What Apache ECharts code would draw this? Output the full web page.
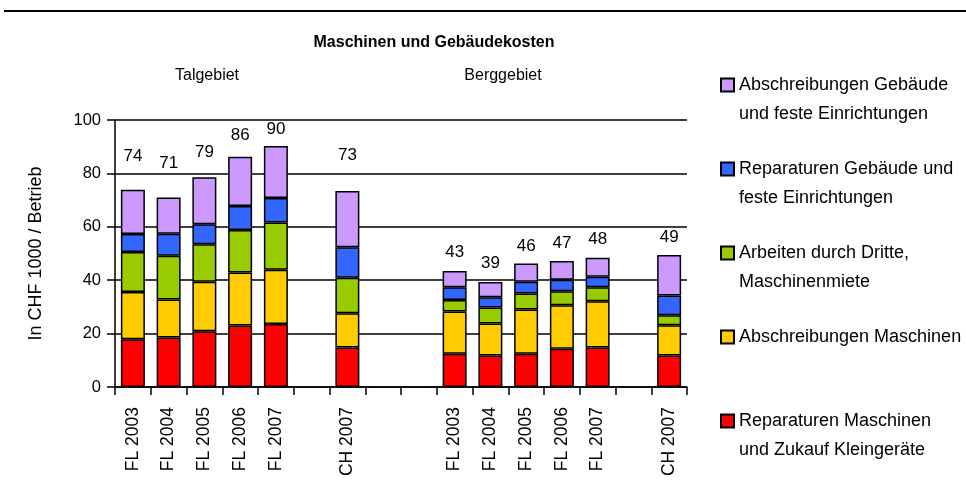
<!DOCTYPE html>
<html><head><meta charset="utf-8">
<script src="https://cdn.jsdelivr.net/npm/echarts@6/dist/echarts.min.js"></script>
<style>html,body{margin:0;padding:0;background:#fff}#c{width:966px;height:487px}</style>
</head><body><div id="c"></div>
<script>
// ---- data ----
const categories = ['FL 2003','FL 2004','FL 2005','FL 2006','FL 2007','','CH 2007','','',
                    'FL 2003','FL 2004','FL 2005','FL 2006','FL 2007','','CH 2007'];
const reparaturenMaschinen = [17.9,18.5,20.9,23.0,23.6,null,14.8,null,null,12.5,11.8,12.5,14.3,14.8,null,11.8];
const abschreibungenMaschinen = [17.7,14.3,18.5,19.9,20.3,null,12.8,null,null,15.8,12.0,16.5,16.3,17.3,null,11.3];
const arbeitenDritte = [15.0,16.4,14.1,15.9,17.7,null,13.3,null,null,4.3,6.0,6.0,5.3,5.3,null,3.8];
const reparaturenGebaeude = [6.7,8.2,7.5,9.0,9.2,null,11.4,null,null,4.8,3.8,4.4,4.3,3.9,null,7.4];
const abschreibungenGebaeude = [16.6,13.6,17.6,18.4,19.5,null,21.1,null,null,6.0,5.7,6.9,7.0,7.1,null,15.1];
const totals = [74,71,79,86,90,null,73,null,null,43,39,46,47,48,null,49];
const yTicks = [0,20,40,60,80,100];

// ---- style ----
const FONT = 'Liberation Sans, Arial, sans-serif';
const labelLift = [25,26,16,13,8,0,27,0,0,10,10,9,9,10,0,9];
const names = {
  red: 'Reparaturen Maschinen\nund Zukauf Kleingeräte',
  yellow: 'Abschreibungen Maschinen',
  green: 'Arbeiten durch Dritte,\nMaschinenmiete',
  blue: 'Reparaturen Gebäude und\nfeste Einrichtungen',
  purple: 'Abschreibungen Gebäude\nund feste Einrichtungen'
};
function bar(name, data, color, extra) {
  return Object.assign({
    name: name, type: 'bar', stack: 'total', data: data, barWidth: 24,
    itemStyle: { color: color, borderColor: '#000', borderWidth: 1.5 }
  }, extra || {});
}
const purpleData = abschreibungenGebaeude.map((v, i) => v == null ? null : { value: v, label: { distance: labelLift[i] } });

const chart = echarts.init(document.getElementById('c'), null, { renderer: 'canvas' });
chart.setOption({
  animation: false,
  backgroundColor: '#fff',
  textStyle: { fontFamily: FONT, color: '#000' },
  grid: { left: 115, right: 279, top: 120, bottom: 100, containLabel: false },
  graphic: [
    { type: 'line', shape: { x1: 4, y1: 11, x2: 966, y2: 11 }, style: { stroke: '#000', lineWidth: 2 } },
    { type: 'text', x: 434, y: 43, style: { text: 'Maschinen und Gebäudekosten', font: 'bold 16px ' + FONT, fill: '#000', align: 'center', verticalAlign: 'middle' } },
    { type: 'text', x: 207, y: 76, style: { text: 'Talgebiet', font: '16px ' + FONT, fill: '#000', align: 'center', verticalAlign: 'middle' } },
    { type: 'text', x: 503, y: 76, style: { text: 'Berggebiet', font: '16px ' + FONT, fill: '#000', align: 'center', verticalAlign: 'middle' } }
  ],
  legend: {
    orient: 'vertical', left: 720, top: 41.5, padding: 0, itemGap: -3,
    itemWidth: 13, itemHeight: 13, selectedMode: false, icon: 'rect',
    textStyle: { fontFamily: FONT, fontSize: 18, lineHeight: 29, color: '#000' },
    formatter: name => '\n' + name + (name.indexOf('\n') < 0 ? '\n ' : ''),
    data: [names.purple, names.blue, names.green, names.yellow, names.red]
  },
  xAxis: {
    type: 'category', data: categories,
    axisLine: { lineStyle: { color: '#000', width: 1.5 } },
    axisTick: { show: true, interval: 0, length: 8, lineStyle: { color: '#000', width: 1.5 } },
    axisLabel: { interval: 0, rotate: 90, margin: 20, fontSize: 17.5, color: '#000', fontFamily: FONT }
  },
  yAxis: {
    type: 'value', min: yTicks[0], max: yTicks[yTicks.length - 1], interval: 20,
    name: 'In CHF 1000 / Betrieb', nameLocation: 'middle', nameGap: 70, nameRotate: 90,
    nameTextStyle: { fontSize: 18, color: '#000', fontFamily: FONT },
    axisLine: { show: true, lineStyle: { color: '#000', width: 1.5 } },
    axisTick: { show: true, length: 8, lineStyle: { color: '#000', width: 1.5 } },
    axisLabel: { margin: 14, fontSize: 16.5, color: '#000', fontFamily: FONT },
    splitLine: { show: true, lineStyle: { color: '#000', width: 1.5 } }
  },
  series: [
    bar(names.red, reparaturenMaschinen, '#FF0000'),
    bar(names.yellow, abschreibungenMaschinen, '#FFCC00'),
    bar(names.green, arbeitenDritte, '#99CC00'),
    bar(names.blue, reparaturenGebaeude, '#3366FF'),
    bar(names.purple, purpleData, '#CC99FF', {
      label: {
        show: true, position: 'top', fontSize: 17, color: '#000', fontFamily: FONT,
        formatter: p => totals[p.dataIndex]
      }
    })
  ]
});
</script></body></html>
